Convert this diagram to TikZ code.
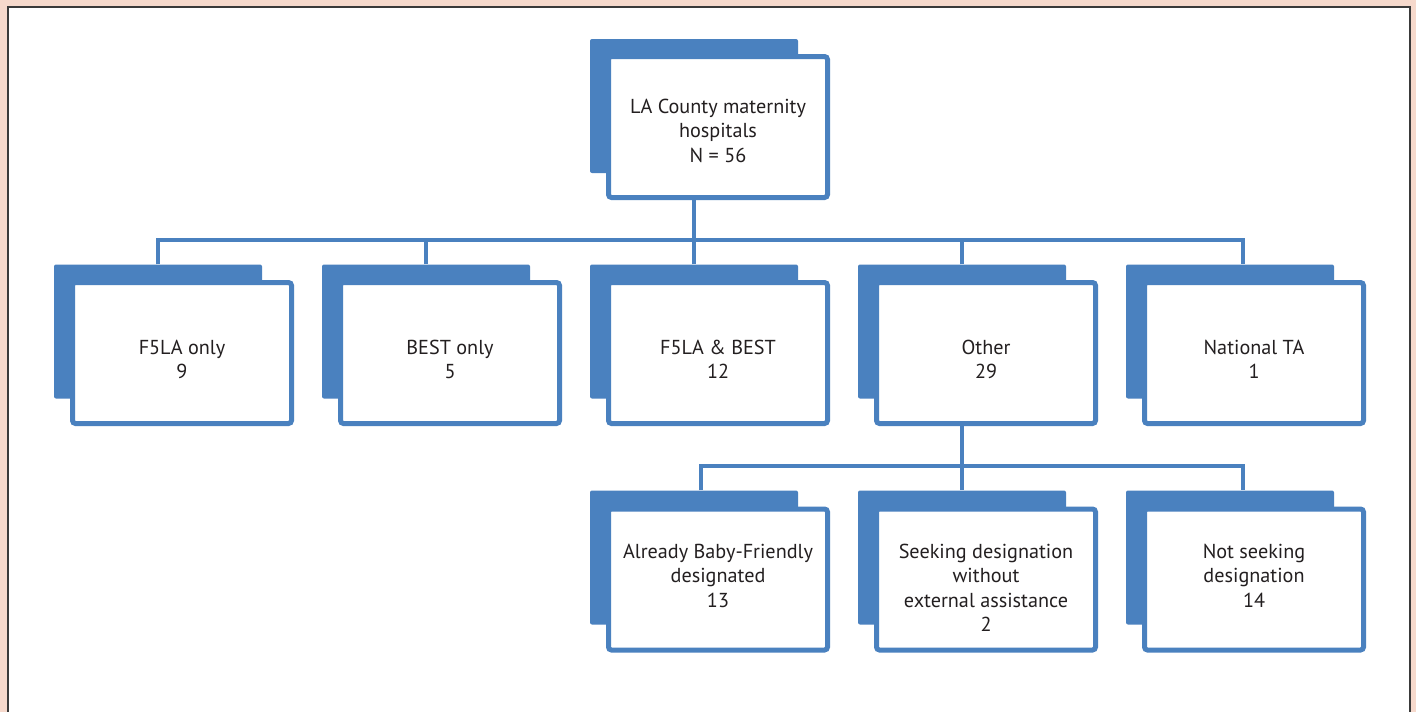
\documentclass[tikz,border=0pt]{standalone}
\usepackage{fontspec}
\setmainfont{PT Sans}
\usetikzlibrary{calc}
\definecolor{bgpink}{HTML}{F6D9CC}
\definecolor{boxblue}{HTML}{4A81BF}
\definecolor{txtgray}{HTML}{231F20}
\definecolor{framegray}{HTML}{3A3A3A}
\tikzset{
  backbox/.style={fill=boxblue, draw=none, rounded corners=2pt, inner sep=0pt,
    minimum width=208pt, minimum height=134pt},
  frontbox/.style={fill=white, draw=boxblue, line width=5pt, rounded corners=3pt,
    inner sep=0pt, minimum width=219pt, minimum height=141pt},
  lbl/.style={anchor=north, inner sep=0pt, align=center, text=txtgray,
    font=\fontsize{20.2}{24.5}\selectfont},
  conn/.style={draw=boxblue, line width=4.5pt}
}
\begin{document}
\begin{tikzpicture}[x=1pt,y=-1pt]
\useasboundingbox (0,0) rectangle (1416,712);
\fill[bgpink] (0,0) rectangle (1416,712);
\filldraw[fill=white, draw=framegray, line width=1.3pt] (8,7) rectangle (1410,720);

% top
\node[backbox] (tb) at (694,106) {};
\node[frontbox] (tf) at (718,127) {};
\node[lbl] (tl) at (718,98.5) {LA County maternity\\hospitals\\N = 56};

% middle row
\foreach \i/\x/\t in {1/158/{F5LA only\\9}, 2/426/{BEST only\\5}, 3/694/{F5LA \& BEST\\12}, 4/962/{Other\\29}, 5/1230/{National TA\\1}} {
  \node[backbox] (m\i b) at (\x,331.5) {};
  \node[frontbox] (m\i f) at (\x+24,353) {};
  \node[lbl] (m\i l) at (\x+24,339.5) {\t};
}

% bottom row
\foreach \i/\x/\t in {1/694/{Already Baby-Friendly\\designated\\13}, 2/962/{Seeking designation\\without\\external assistance\\2}, 3/1230/{Not seeking\\designation\\14}} {
  \node[backbox] (b\i b) at (\x,557.5) {};
  \node[frontbox] (b\i f) at (\x+24,579.5) {};
  \node[lbl] (b\i l) at (\x+24,543.5) {\t};
}

% connectors top -> middle
\coordinate (bus) at (0,240);
\coordinate (m5in) at ($(m5b.north)+(13,0)$);
\draw[conn] (tb.center |- tf.south) -- (tb.center |- bus);
\draw[conn] (m1b.north) -- (m1b.north |- bus) -- (m5in |- bus) -- (m5in);
\foreach \i in {2,3,4} { \draw[conn] (m\i b.north) -- (m\i b.north |- bus); }

% connectors other -> bottom
\coordinate (bus2) at (0,466);
\coordinate (b1in) at ($(b1b.north)+(7,0)$);
\coordinate (b3in) at ($(b3b.north)+(13,0)$);
\draw[conn] (m4b.center |- m4f.south) -- (b2b.north);
\draw[conn] (b1in) -- (b1in |- bus2) -- (b3in |- bus2) -- (b3in);
\end{tikzpicture}
\end{document}
